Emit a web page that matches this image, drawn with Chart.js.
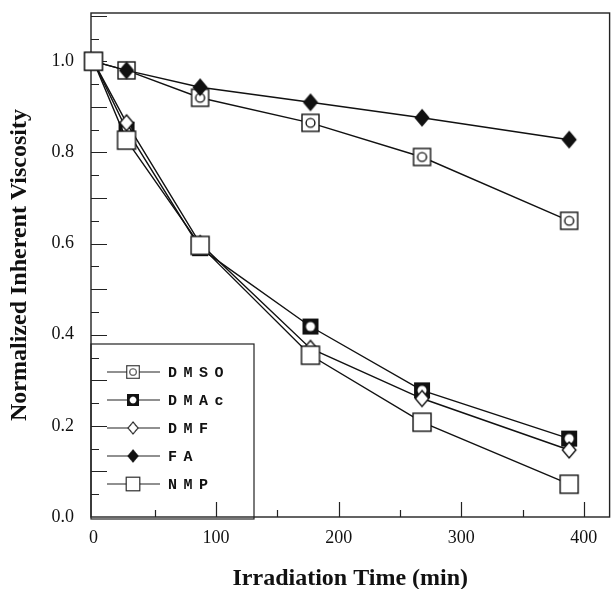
<!DOCTYPE html>
<html>
<head>
<meta charset="utf-8">
<script src="https://cdn.jsdelivr.net/npm/chart.js@4.4.0/dist/chart.umd.min.js"></script>
<style>html,body{margin:0;background:#fff}</style>
</head>
<body>
<canvas id="c" width="615" height="589"></canvas>
<script>
// irradiation time, min
const times = [0, 27, 87, 177, 268, 388]

// normalized inherent viscosity per solvent
const dmso = [1.0, 0.98, 0.92, 0.865, 0.79, 0.65]
const dmac = [1.0, 0.85, 0.59, 0.418, 0.278, 0.172]
const dmf = [1.0, 0.865, 0.60, 0.37, 0.26, 0.147]
const fa = [1.0, 0.98, 0.943, 0.91, 0.876, 0.828]
const nmp = [1.0, 0.827, 0.596, 0.355, 0.208, 0.072]

const seriesNames = ['DMSO', 'DMAc', 'DMF', 'FA', 'NMP']
const xTicks = [0, 100, 200, 300, 400]
const yTicks = [0.0, 0.2, 0.4, 0.6, 0.8, 1.0]

const ink = '#111'

// marker glyphs drawn once on small canvases
function marker(kind, s) {
  const n = Math.ceil(s + 4)
  const c = document.createElement('canvas')
  c.width = c.height = n
  const g = c.getContext('2d')
  const m = n / 2
  g.strokeStyle = ink
  g.fillStyle = '#fff'
  g.lineWidth = 1.4
  if (kind == 'sqcircle' || kind == 'square') {
    g.fillRect(m - s / 2, m - s / 2, s, s)
    g.strokeRect(m - s / 2, m - s / 2, s, s)
    if (kind == 'sqcircle') {
      g.beginPath(); g.arc(m, m, s * 0.26, 0, 2 * Math.PI); g.stroke()
    }
  } else if (kind == 'blacksq') {
    g.fillStyle = ink
    g.fillRect(m - s / 2, m - s / 2, s, s)
    g.fillStyle = '#fff'
    g.beginPath(); g.arc(m, m, s * 0.28, 0, 2 * Math.PI); g.fill()
  } else {
    const w = s * 0.42, h = s / 2
    g.beginPath()
    g.moveTo(m, m - h); g.lineTo(m + w, m); g.lineTo(m, m + h); g.lineTo(m - w, m); g.closePath()
    if (kind == 'fdiamond') g.fillStyle = ink
    g.fill(); g.stroke()
  }
  return c
}

const styles = [
  {data: dmso, img: marker('sqcircle', 17), order: 4},
  {data: dmac, img: marker('blacksq', 16), order: 3},
  {data: dmf, img: marker('diamond', 16), order: 2},
  {data: fa, img: marker('fdiamond', 16), order: 1},
  {data: nmp, img: marker('square', 18), order: 0}
]

const datasets = seriesNames.map((name, i) => ({
  label: name,
  data: times.map((t, j) => ({x: t, y: styles[i].data[j]})),
  borderColor: ink,
  borderWidth: 1.4,
  pointStyle: styles[i].img,
  order: styles[i].order,
  clip: false
}))

const innerTicks = {
  id: 'innerTicks',
  beforeDatasetsDraw(chart) {
    const {ctx, chartArea: a, scales: {x, y}} = chart
    ctx.save()
    ctx.strokeStyle = '#222'
    ctx.lineWidth = 1.4
    ctx.strokeRect(a.left, a.top, a.right - a.left, a.bottom - a.top)
    ctx.lineWidth = 1.2
    ctx.beginPath()
    for (let i = 1; i <= 22; i++) {
      const py = Math.round(y.getPixelForValue(i * 0.05)) + 0.5
      ctx.moveTo(a.left, py)
      ctx.lineTo(a.left + (i % 2 ? 8 : 16), py)
    }
    for (let t = 50; t <= 400; t += 50) {
      const px = Math.round(x.getPixelForValue(t)) + 0.5
      ctx.moveTo(px, a.bottom)
      ctx.lineTo(px, a.bottom - (t % 100 ? 7 : 15))
    }
    ctx.stroke()
    ctx.restore()
  }
}

const boxLegend = {
  id: 'boxLegend',
  afterDraw(chart) {
    const {ctx, chartArea: a} = chart
    const left = a.left, top = a.bottom - 173
    ctx.save()
    ctx.strokeStyle = '#222'
    ctx.lineWidth = 1.2
    ctx.strokeRect(left, top, 163, a.bottom + 2 - top)
    ctx.font = 'bold 15px "Liberation Mono"'
    ctx.letterSpacing = '6.5px'
    ctx.textBaseline = 'middle'
    ctx.fillStyle = ink
    chart.data.datasets.forEach((ds, i) => {
      const yy = top + 28 + i * 28
      ctx.lineWidth = 1.1
      ctx.beginPath()
      ctx.moveTo(left + 16, yy); ctx.lineTo(left + 69, yy)
      ctx.stroke()
      const img = ds.pointStyle
      const k = 0.75
      ctx.drawImage(img, left + 42 - img.width * k / 2, yy - img.height * k / 2, img.width * k, img.height * k)
      ctx.fillText(ds.label, left + 77, yy + 1)
    })
    ctx.restore()
  }
}

const tickFont = {family: '"Liberation Serif"', size: 18}
const titleFont = {family: '"Liberation Serif"', size: 24, weight: 'bold', lineHeight: 1}

new Chart(document.getElementById('c').getContext('2d'), {
  type: 'line',
  data: {datasets},
  options: {
    responsive: false,
    animation: false,
    layout: {padding: {top: 13, right: 1, left: 0, bottom: 0}},
    plugins: {legend: {display: false}, tooltip: {enabled: false}},
    elements: {line: {tension: 0}},
    scales: {
      x: {
        type: 'linear', min: -2, max: 421,
        afterBuildTicks: s => { s.ticks = xTicks.map(v => ({value: v})) },
        afterFit: s => { s.height = 72; s.paddingLeft = 0; s.paddingRight = 0 },
        grid: {display: false, drawTicks: false},
        border: {display: false},
        ticks: {padding: 10, font: tickFont, color: ink, maxRotation: 0},
        title: {display: true, text: 'Irradiation Time (min)', font: titleFont, color: ink, padding: {top: 0, bottom: -2}}
      },
      y: {
        min: 0, max: 1.106,
        afterBuildTicks: s => { s.ticks = yTicks.map(v => ({value: v})) },
        afterFit: s => { s.width = 91; s.paddingTop = 0; s.paddingBottom = 0 },
        grid: {display: false, drawTicks: false},
        border: {display: false},
        ticks: {padding: 17, font: tickFont, color: ink, callback: v => v.toFixed(1)},
        title: {display: true, text: 'Normalized Inherent Viscosity', font: titleFont, color: ink, padding: {top: 8, bottom: 0}}
      }
    }
  },
  plugins: [innerTicks, boxLegend]
})
</script>
</body>
</html>
